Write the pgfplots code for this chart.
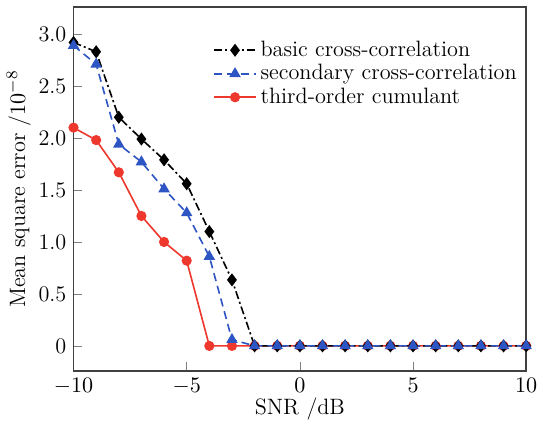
\documentclass[border=0pt]{standalone}
\usepackage{pgfplots}
\pgfplotsset{compat=1.18}
\definecolor{myblue}{RGB}{45,85,195}
\definecolor{myred}{RGB}{238,55,45}
\begin{document}
\begin{tikzpicture}[font=\fontsize{11}{13}\selectfont]
\begin{axis}[
  name=ax,
  scale only axis,
  width=224pt, height=180pt,
  xmin=-10, xmax=10, ymin=-0.24, ymax=3.26,
  xtick={-10,-5,0,5,10},
  ytick={0,0.5,1,1.5,2,2.5,3},
  yticklabels={0,0.5,1.0,1.5,2.0,2.5,3.0},
  xtick pos=bottom, ytick pos=left,
  tick align=inside,
  tick label style={font=\fontsize{11}{13}\selectfont},
  label style={font=\fontsize{11}{13}\selectfont},
  axis line style={line width=0.8pt, black!75},
  xlabel={SNR /dB},
  ylabel={Mean square error /$10^{-8}$},
  xlabel style={yshift=5pt},
  ylabel style={yshift=-3pt},
  legend style={draw=none, fill=none, at={(0.295,0.93)}, anchor=north west, font=\fontsize{11}{13}\selectfont, row sep=-1.5pt},
  legend cell align=left,
  legend image code/.code={\draw[mark repeat=2,mark phase=2,#1] plot coordinates {(0cm,0cm) (0.36cm,0cm) (0.72cm,0cm)};},
]
\addplot[myred, line width=0.8pt, mark=*, mark size=2.1pt, forget plot] coordinates {
(-10,2.10) (-9,1.98) (-8,1.67) (-7,1.25) (-6,1.00) (-5,0.82) (-4,0) (-3,0) (-2,0) (-1,0) (0,0) (1,0) (2,0) (3,0) (4,0) (5,0) (6,0) (7,0) (8,0) (9,0) (10,0)};
\addplot[black, line width=0.8pt, dash pattern=on 4pt off 1.5pt on 1pt off 1.5pt, mark=diamond*, mark size=2.6pt, mark options={solid}] coordinates {
(-10,2.92) (-9,2.83) (-8,2.20) (-7,1.99) (-6,1.79) (-5,1.56) (-4,1.10) (-3,0.635) (-2,0) (-1,0) (0,0) (1,0) (2,0) (3,0) (4,0) (5,0) (6,0) (7,0) (8,0) (9,0) (10,0)};
\addlegendentry{basic cross-correlation}
\addplot[myblue, line width=0.8pt, dash pattern=on 4pt off 2.5pt, mark=triangle*, mark size=2.5pt, mark options={solid}] coordinates {
(-10,2.89) (-9,2.71) (-8,1.94) (-7,1.77) (-6,1.51) (-5,1.28) (-4,0.86) (-3,0.06) (-2,0) (-1,0) (0,0) (1,0) (2,0) (3,0) (4,0) (5,0) (6,0) (7,0) (8,0) (9,0) (10,0)};
\addlegendentry{secondary cross-correlation}
\addlegendimage{myred, line width=0.8pt, mark=*, mark size=2.1pt}
\addlegendentry{third-order cumulant}
\end{axis}
\path ([yshift=3.5pt]ax.north);
\end{tikzpicture}
\end{document}
